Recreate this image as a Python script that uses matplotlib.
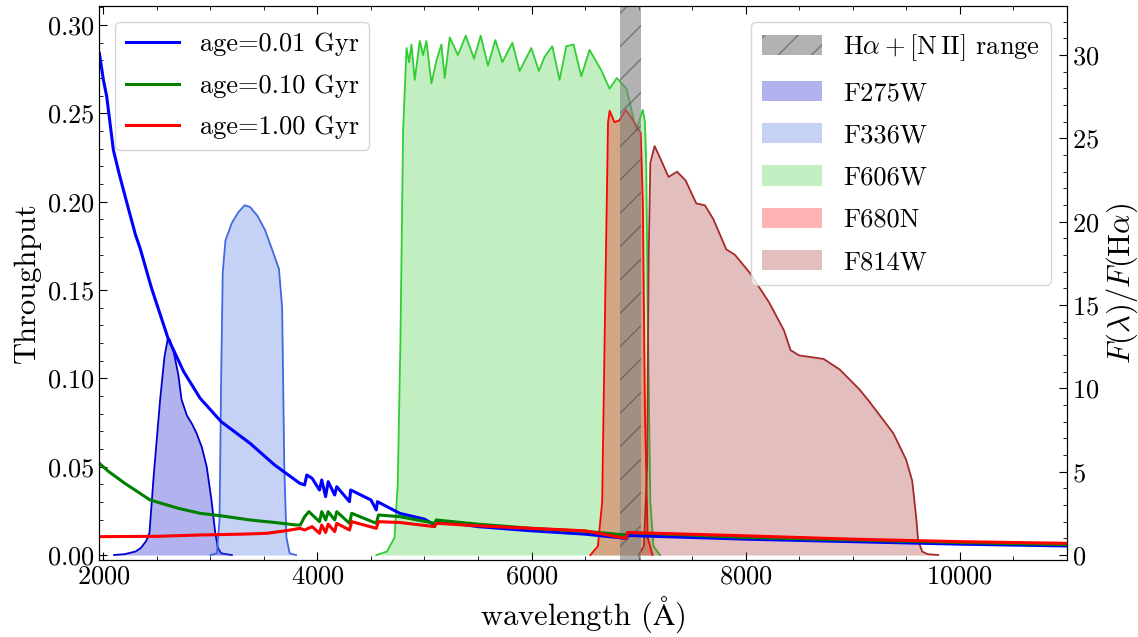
import numpy as np
import matplotlib
matplotlib.use('Agg')
import matplotlib.pyplot as plt
from matplotlib.ticker import MultipleLocator

plt.rcParams['font.family'] = 'serif'
plt.rcParams['font.serif'] = ['cmr10']
plt.rcParams['mathtext.fontset'] = 'cm'
plt.rcParams['axes.formatter.use_mathtext'] = True

# filter throughputs (wavelength in Angstrom, throughput)
f275w_lam = [2100, 2200, 2300, 2350, 2400, 2430, 2470, 2530, 2570, 2600, 2620, 2660, 2700,
             2730, 2780, 2830, 2870, 2920, 2965, 3010, 3045, 3070, 3100, 3200]
f275w_thr = [0, 0.0005, 0.002, 0.004, 0.008, 0.0125, 0.045, 0.088, 0.112, 0.122, 0.122, 0.114,
             0.102, 0.088, 0.079, 0.074, 0.069, 0.061, 0.050, 0.031, 0.0125, 0.004, 0.001, 0]

f336w_lam = [3000, 3060, 3085, 3100, 3115, 3140, 3200, 3260, 3320, 3370, 3440, 3510, 3570,
             3640, 3670, 3690, 3710, 3740, 3800]
f336w_thr = [0, 0.001, 0.02, 0.10, 0.160, 0.178, 0.188, 0.194, 0.198, 0.197, 0.192, 0.184,
             0.174, 0.162, 0.14, 0.05, 0.01, 0.001, 0]

f606w_lam = [4550, 4650, 4720, 4750, 4775, 4800, 4832, 4856, 4878, 4909, 4956, 4987, 5018,
             5065, 5112, 5158, 5189, 5236, 5313, 5385, 5463, 5525, 5593, 5662, 5728, 5821,
             5889, 5998, 6069, 6122, 6194, 6262, 6325, 6393, 6465, 6542, 6651, 6729, 6797,
             6888, 6978, 7040, 7060, 7072, 7090, 7110, 7140, 7200]
f606w_thr = [0, 0.002, 0.01, 0.04, 0.12, 0.24, 0.287, 0.279, 0.289, 0.269, 0.291, 0.283,
             0.291, 0.267, 0.280, 0.289, 0.270, 0.293, 0.283, 0.294, 0.281, 0.294, 0.277,
             0.2915, 0.279, 0.290, 0.274, 0.287, 0.274, 0.282, 0.288, 0.269, 0.288, 0.289,
             0.271, 0.286, 0.2745, 0.264, 0.270, 0.264, 0.2405, 0.252, 0.245, 0.220, 0.12,
             0.03, 0.005, 0]

f680n_lam = [6550, 6620, 6660, 6690, 6715, 6730, 6775, 6820, 6880, 6930, 6980, 7020, 7040,
             7060, 7085, 7130]
f680n_thr = [0, 0.005, 0.03, 0.15, 0.245, 0.2515, 0.245, 0.246, 0.252, 0.248, 0.243, 0.239,
             0.20, 0.08, 0.01, 0]

f814w_lam = [7000, 7050, 7080, 7095, 7110, 7150, 7200, 7280, 7360, 7440, 7540, 7620, 7700,
             7820, 7900, 8036, 8220, 8360, 8420, 8500, 8730, 8880, 9060, 9146, 9380, 9500,
             9557, 9594, 9612, 9650, 9700, 9800]
f814w_thr = [0, 0.005, 0.05, 0.17, 0.222, 0.2315, 0.225, 0.214, 0.217, 0.212, 0.199, 0.198,
             0.190, 0.173, 0.170, 0.160, 0.143, 0.127, 0.116, 0.113, 0.111, 0.105, 0.094,
             0.0877, 0.069, 0.054, 0.042, 0.0215, 0.0085, 0.002, 0.0005, 0]

# model spectra, F(lambda)/F(Halpha)
sed_young_lam = [1962, 2000, 2031, 2093, 2150, 2212, 2300, 2343, 2450, 2604, 2750, 2904, 3100,
                 3370, 3600, 3835, 3880, 3900, 3950, 4019, 4040, 4076, 4100, 4161, 4180, 4299,
                 4310, 4500, 4550, 4560, 4769, 5000, 5095, 5110, 5500, 6000, 6500, 6880, 6900,
                 7000, 8000, 9000, 10000, 11000]
sed_young_val = [30.1, 28.5, 27.5, 24.3, 22.8, 21.3, 19.2, 18.4, 16.0, 13.0, 11.0, 9.4, 8.0,
                 6.7, 5.4, 4.3, 4.2, 4.8, 4.6, 3.9, 4.5, 3.5, 4.4, 3.6, 4.1, 3.2, 3.9, 3.3,
                 2.7, 3.2, 2.5, 2.15, 1.8, 2.05, 1.7, 1.45, 1.25, 1.0, 1.18, 1.15, 0.95, 0.8,
                 0.65, 0.54]

sed_mid_lam = [1962, 2050, 2200, 2436, 2700, 2904, 3100, 3370, 3600, 3800, 3840, 3880, 3920,
               4019, 4040, 4076, 4100, 4161, 4180, 4299, 4320, 4550, 4570, 4769, 5095, 5110,
               5500, 6000, 6500, 6880, 6900, 8000, 9000, 10000, 11000]
sed_mid_val = [5.5, 5.0, 4.3, 3.3, 2.8, 2.5, 2.35, 2.1, 1.95, 1.8, 1.8, 2.3, 2.6, 2.0, 2.6,
               2.1, 2.6, 2.1, 2.6, 1.9, 2.5, 1.9, 2.4, 2.3, 1.9, 2.1, 1.85, 1.6, 1.42, 1.2,
               1.35, 1.05, 0.9, 0.75, 0.62]

sed_old_lam = [1962, 2500, 2904, 3300, 3525, 3700, 3837, 3880, 3950, 4019, 4040, 4076, 4100,
               4161, 4180, 4299, 4320, 4550, 4570, 4769, 5095, 5110, 5500, 6000, 6500, 6880,
               6900, 8000, 9000, 10000, 11000]
sed_old_val = [1.1, 1.12, 1.2, 1.25, 1.3, 1.45, 1.6, 1.5, 1.7, 1.3, 1.8, 1.35, 1.85, 1.4, 1.9,
               1.5, 2.0, 1.6, 2.0, 1.95, 1.7, 1.9, 1.75, 1.6, 1.45, 1.0, 1.35, 1.15, 0.95,
               0.8, 0.7]

ages = ['0.01', '0.10', '1.00']
halpha_range = [6830, 7020]

filters = [('F275W', f275w_lam, f275w_thr, 'mediumblue'),
           ('F336W', f336w_lam, f336w_thr, 'royalblue'),
           ('F606W', f606w_lam, f606w_thr, 'limegreen'),
           ('F680N', f680n_lam, f680n_thr, 'red'),
           ('F814W', f814w_lam, f814w_thr, 'brown')]

fig, ax = plt.subplots(figsize=(11.38, 6.37), dpi=100)
fig.subplots_adjust(left=0.0873, right=0.9373, top=0.9906, bottom=0.1209)

ax.axvspan(halpha_range[0], halpha_range[1], facecolor=(0.5, 0.5, 0.5, 0.6),
           edgecolor=(0.3, 0.3, 0.3, 0.6), lw=0, hatch='/', zorder=3,
           label=r'$\mathrm{H}\alpha + [\mathrm{N\,II}]$ range')

for name, lam, thr, c in filters:
    ax.fill_between(lam, thr, color=c, alpha=0.3, lw=0, label=name, zorder=2)
    ax.plot(lam, thr, color=c, lw=1.3, zorder=2)

ax.set_xlim(1962, 11000)
ax.set_ylim(-0.0028, 0.3108)
ax.set_xlabel(r'wavelength ($\mathrm{\AA}$)', fontsize=22)
ax.set_ylabel('Throughput', fontsize=22)
ax.xaxis.set_major_locator(MultipleLocator(2000))
ax.xaxis.set_minor_locator(MultipleLocator(500))
ax.yaxis.set_major_locator(MultipleLocator(0.05))
ax.yaxis.set_minor_locator(MultipleLocator(0.01))
ax.tick_params(which='both', direction='in', top=True, right=False, labelsize=19)
ax.tick_params(which='major', length=6)
ax.tick_params(which='minor', length=3)

ax2 = ax.twinx()
sed_colors = ['blue', 'green', 'red']
for (lam, val), age, c in zip([(sed_young_lam, sed_young_val), (sed_mid_lam, sed_mid_val),
                               (sed_old_lam, sed_old_val)], ages, sed_colors):
    ax2.plot(lam, val, color=c, lw=2.2, label='age=%s Gyr' % age)
ax2.set_ylim(-0.3, 32.94)
ax2.set_ylabel(r'$F(\lambda)/F(\mathrm{H}\alpha)$', fontsize=22)
ax2.yaxis.set_major_locator(MultipleLocator(5))
ax2.yaxis.set_minor_locator(MultipleLocator(1))
ax2.tick_params(which='both', direction='in', labelsize=19)
ax2.tick_params(which='major', length=6)
ax2.tick_params(which='minor', length=3)

leg2 = ax.legend(loc='upper right', fontsize=19, framealpha=0.8, labelspacing=0.68,
                 handlelength=2.3, handleheight=0.8, borderaxespad=0.6)
leg2.set_zorder(10)
ax2.legend(loc='upper left', fontsize=19, framealpha=0.8, labelspacing=0.68,
           borderaxespad=0.6)

plt.savefig('out.png', dpi=100)
